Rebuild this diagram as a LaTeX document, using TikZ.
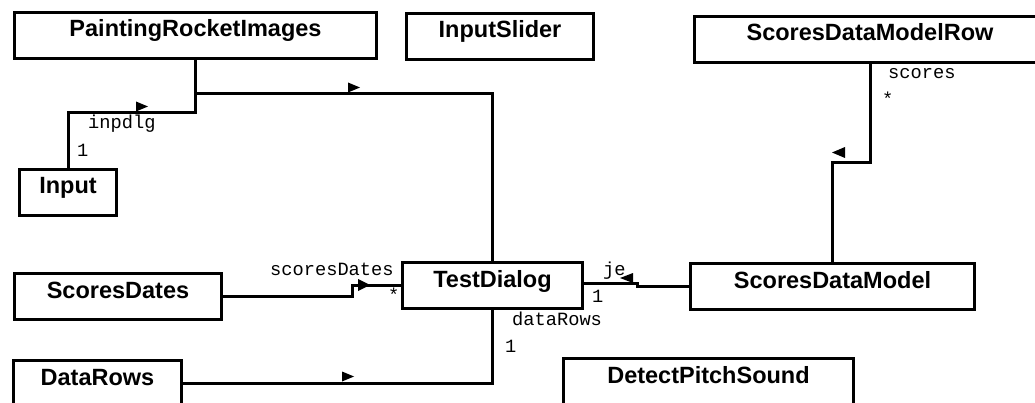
\documentclass[tikz,border=0pt]{standalone}
\usepackage{fontspec}
\setmainfont{Liberation Sans}
\newfontfamily\monofont{Liberation Mono}
\begin{document}
\begin{tikzpicture}[x=1pt,y=-1pt,
  classbox/.style={draw, line width=3pt, anchor=north west, inner xsep=0pt, inner ysep=0pt, outer sep=0pt,
    text height=24.5pt, text depth=21.5pt, font=\fontsize{23.5}{28}\selectfont\bfseries},
  link/.style={line width=3pt},
  role/.style={anchor=base west, inner sep=0pt, font=\fontsize{18.7}{22}\selectfont\monofont},
  navtip/.style={fill=black}]
\useasboundingbox (0,0) rectangle (1035,403);
\fill[white] (0,0) rectangle (1035,403);
\clip (0,0) rectangle (1035,403);

% classes
\node[classbox, minimum width=362pt] (pri) at (14.5,12.5) {PaintingRocketImages};
\node[classbox, minimum width=187pt] (slider) at (406.5,13.5) {InputSlider};
\node[classbox, minimum width=351pt] (sdmr) at (694.5,16.5) {ScoresDataModelRow};
\node[classbox, minimum width=97pt] (inp) at (19.5,169.5) {Input};
\node[classbox, minimum width=207pt] (sdates) at (14.5,273.5) {ScoresDates};
\node[classbox, minimum width=180pt] (td) at (402.5,262.5) {TestDialog};
\node[classbox, minimum width=284pt] (sdm) at (690.5,263.5) {ScoresDataModel};
\node[classbox, minimum width=168pt] (drows) at (13.5,360.5) {DataRows};
\node[classbox, minimum width=290pt] (dps) at (563.5,358.5) {DetectPitchSound};

% bend points
\coordinate (pb) at (195.5,94);
\coordinate (pj) at (195.5,113);
\coordinate (sb) at (870,163);
\coordinate (db) at (352,296.5);
\coordinate (jb) at (637,283.5);

% PaintingRocketImages -> TestDialog, Input -> PaintingRocketImages
\draw[link] (inp.north) |- (pj) -- (pri.south);
\draw[link] (pb) -| (td.north);
\fill[navtip] (348,82.5) -- (360,87.5) -- (348,92.5) -- cycle;
\fill[navtip] (136,101.5) -- (148,106.5) -- (136,111.5) -- cycle;
\node[role] (l-inpdlg) at (88,129) {inpdlg};
\node[role] (m-inp) at (77,157) {1};

% ScoresDataModelRow -> ScoresDataModel
\draw[link] (sdmr.south -| sb) -- (sb) -| (sdm.north);
\fill[navtip] (832,152.5) -- (845,147) -- (845,158) -- cycle;
\node[role] (l-scores) at (888,79) {scores};
\node[role] (m-scores) at (882,106) {*};

% ScoresDates -> TestDialog
\draw[link] (sdates.east) -- (db) |- (td.west);
\fill[navtip] (358,279) -- (370,285) -- (358,291) -- cycle;
\node[role] (l-sdates) at (270,276) {scoresDates};
\node[role] (m-sdates) at (388,301) {*};

% ScoresDataModel -> TestDialog
\draw[link] (sdm.west) -| (jb) -- (td.east |- jb);
\fill[navtip] (620,278) -- (633,273) -- (633,283) -- cycle;
\node[role] (l-je) at (603,276) {je};
\node[role] (m-je) at (592,302) {1};

% DataRows -> TestDialog
\draw[link] (drows.east) -| (td.south);
\fill[navtip] (342,371.5) -- (354,376.5) -- (342,381.5) -- cycle;
\node[role] (l-drows) at (512,325) {dataRows};
\node[role] (m-drows) at (505,352) {1};
\end{tikzpicture}
\end{document}
